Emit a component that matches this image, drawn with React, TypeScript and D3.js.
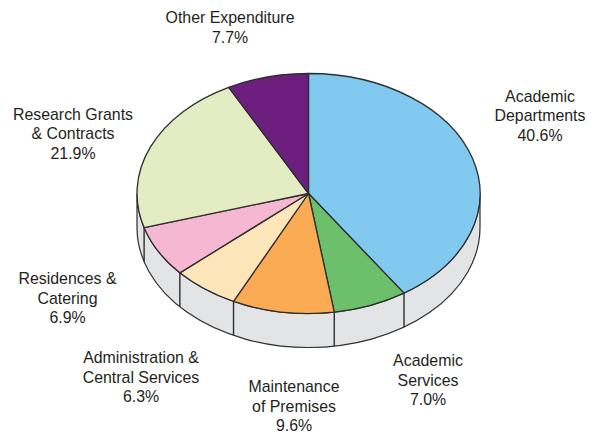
import React from "react";
import * as d3 from "d3";

const categories = ["Academic Departments", "Academic Services", "Maintenance of Premises", "Administration & Central Services", "Residences & Catering", "Research Grants & Contracts", "Other Expenditure"];
const values = [40.6, 7.0, 9.6, 6.3, 6.9, 21.9, 7.7];
const colors = ["#82c9ef", "#6cc06c", "#fbab54", "#fde5ba", "#f5b7d2", "#e3ecc2", "#6d1f80"];
const labelLines = [
  ["Academic", "Departments", "40.6%"],
  ["Academic", "Services", "7.0%"],
  ["Maintenance", "of Premises", "9.6%"],
  ["Administration &", "Central Services", "6.3%"],
  ["Residences &", "Catering", "6.9%"],
  ["Research Grants", "& Contracts", "21.9%"],
  ["Other Expenditure", "7.7%"],
];
const labelAnchors: [number, number][] = [[540, 101.5], [428, 366], [294, 392], [141, 363], [67.5, 284], [73, 119.5], [230, 23]];

const W = 596, H = 434;
const cx = 308.5, cy = 193.5, rx = 171.5, ry = 120, depth = 34;
const edge = "#2e2e2e", wall = "#e3e4e6";

const pt = (a: number, dy = 0): [number, number] => [cx + rx * Math.sin(a), cy - ry * Math.cos(a) + dy];

export default function App() {
  const arcs = d3.pie<number>().sort(null)(values);
  const arc = d3.arc<d3.PieArcDatum<number>>().innerRadius(0).outerRadius(rx);
  const [l, r] = [pt(Math.PI * 1.5), pt(Math.PI / 2)];
  const wallPath = `M${r[0]},${r[1]}A${rx},${ry} 0 0 1 ${l[0]},${l[1]}L${l[0]},${l[1] + depth}A${rx},${ry} 0 0 0 ${r[0]},${r[1] + depth}Z`;
  const lowerEdges = arcs.map((d) => d.endAngle).filter((a) => a > Math.PI / 2 && a < Math.PI * 1.5);
  return (
    <svg width={W} height={H} style={{ position: "absolute", left: 0, top: 0, background: "#fff" }}>
      <path d={wallPath} fill={wall} stroke={edge} strokeWidth={1.2} />
      {lowerEdges.map((a, i) => {
        const [x, y] = pt(a);
        return <line key={i} x1={x} x2={x} y1={y} y2={y + depth} stroke={edge} strokeWidth={1.4} />;
      })}
      <g transform={`translate(${cx},${cy}) scale(1,${ry / rx})`}>
        {arcs.map((d, i) => (
          <path key={categories[i]} d={arc(d)!} fill={colors[i]} stroke={edge} strokeWidth={1.3} strokeLinejoin="round" vectorEffect="non-scaling-stroke" />
        ))}
      </g>
      <g fontFamily="'Liberation Sans', Arial, sans-serif" fontSize={15.9} fill="#231f20" textAnchor="middle">
        {labelLines.map((lines, i) => (
          <text key={i}>
            {lines.map((s, j) => (
              <tspan key={j} x={labelAnchors[i][0]} y={labelAnchors[i][1] + j * 19.6}>{s}</tspan>
            ))}
          </text>
        ))}
      </g>
    </svg>
  );
}
